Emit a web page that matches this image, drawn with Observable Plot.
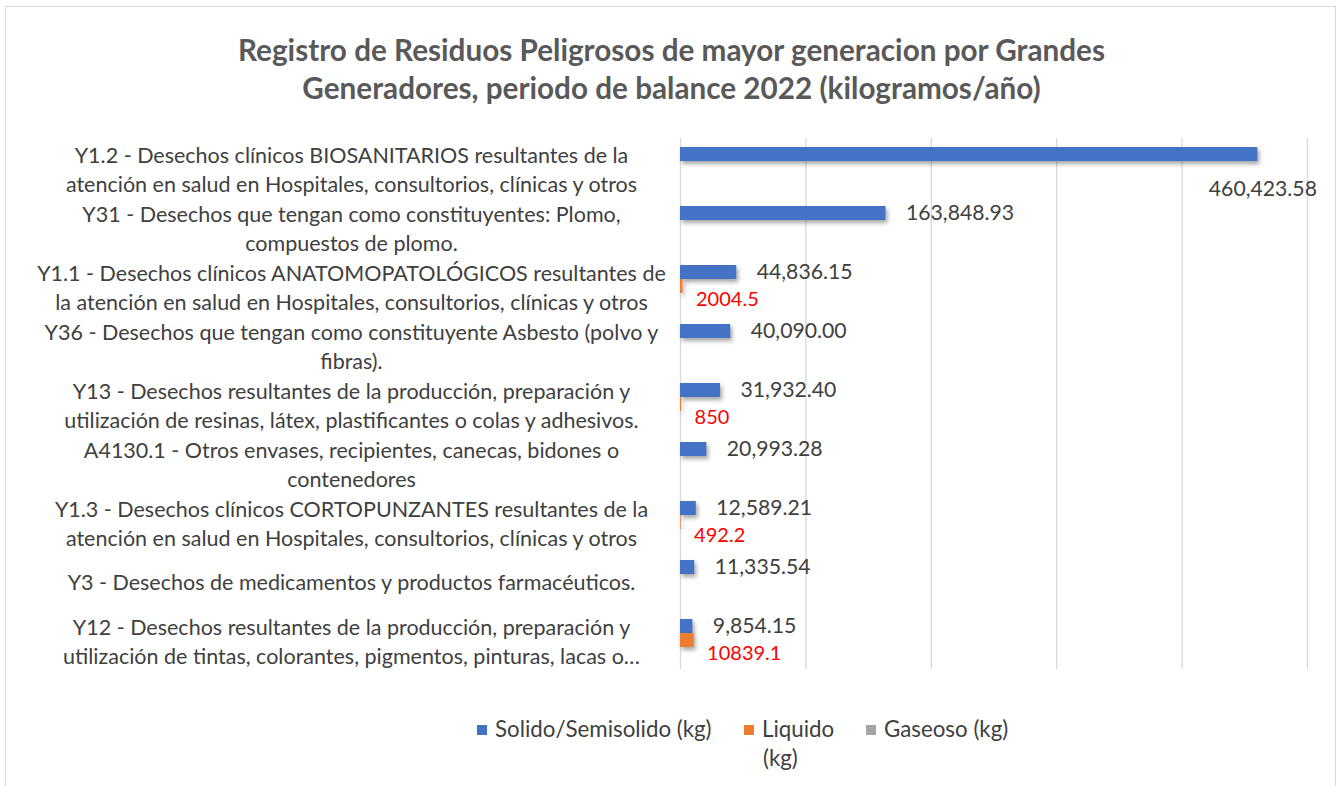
<!DOCTYPE html>
<html>
<head>
<meta charset="utf-8">
<script src="https://cdn.jsdelivr.net/npm/d3@7"></script>
<script src="https://cdn.jsdelivr.net/npm/@observablehq/plot@0.6"></script>
<style>
  body { margin: 0; background: #fff; font-family: Lato, "Open Sans", sans-serif; }
  #frame { position: absolute; left: 5px; top: 6px; width: 1331px; height: 820px; border: 1px solid #d9d9d9; box-sizing: border-box; }
  #title { position: absolute; left: 0; top: 31px; width: 1343px; text-align: center; font-weight: 700; font-size: 29.7px; line-height: 38px; color: #595959; }
  #chart { position: absolute; left: 0; top: 117px; }
  #chart g[aria-label="bar"] rect { filter: drop-shadow(2px 3px 2px rgba(0,0,0,0.35)); }
  .leg { position: absolute; font-size: 22.3px; color: #404040; line-height: 24px; white-space: nowrap; }
  .sw { display: inline-block; width: 10px; height: 10px; margin-right: 8px; vertical-align: 2px; }
</style>
</head>
<body>
<div id="frame"></div>
<div id="title">Registro de Residuos Peligrosos de mayor generacion por Grandes<br>Generadores, periodo de balance 2022 (kilogramos/año)</div>
<div id="chart"></div>
<div id="legend"></div>
<script>
const categories = [
  "Y1.2 - Desechos clínicos BIOSANITARIOS resultantes de la\natención en salud en Hospitales, consultorios, clínicas y otros",
  "Y31 - Desechos que tengan como constituyentes: Plomo,\ncompuestos de plomo.",
  "Y1.1 - Desechos clínicos ANATOMOPATOLÓGICOS resultantes de\nla atención en salud en Hospitales, consultorios, clínicas y otros",
  "Y36 - Desechos que tengan como constituyente Asbesto (polvo y\nfibras).",
  "Y13 - Desechos resultantes de la producción, preparación y\nutilización de resinas, látex, plastificantes o colas y adhesivos.",
  "A4130.1 - Otros envases, recipientes, canecas, bidones o\ncontenedores",
  "Y1.3 - Desechos clínicos CORTOPUNZANTES resultantes de la\natención en salud en Hospitales, consultorios, clínicas y otros",
  "Y3 - Desechos de medicamentos y productos farmacéuticos.",
  "Y12 - Desechos resultantes de la producción, preparación y\nutilización de tintas, colorantes, pigmentos, pinturas, lacas o…"
];
const series = ["Solido/Semisolido (kg)", "Liquido (kg)", "Gaseoso (kg)"];
const solido  = [460423.58, 163848.93, 44836.15, 40090.00, 31932.40, 20993.28, 12589.21, 11335.54, 9854.15];
const liquido = [null, null, 2004.5, null, 850, null, 492.2, null, 10839.1];
const gaseoso = [null, null, null, null, null, null, null, null, null];
const colors  = ["#4472C4", "#ED7D31", "#A5A5A5"];
const xTicks  = [0, 100000, 200000, 300000, 400000, 500000];

const valuesBySeries = [solido, liquido, gaseoso];
const rows = categories.flatMap((c, i) =>
  series.map((s, j) => ({cat: c, series: s, value: valuesBySeries[j][i]}))
).filter(d => d.value != null);

const fmt = d3.format(",.2f");

const chart = Plot.plot({
  width: 1343,
  height: 573,
  marginTop: 20,
  marginBottom: 20,
  marginLeft: 680,
  marginRight: 36,
  style: {fontFamily: "Lato, 'Open Sans', sans-serif", fontSize: "21px", color: "#404040", background: "transparent"},
  x: {domain: [0, 500000], axis: null},
  y: {domain: series, paddingInner: 0, paddingOuter: 0.57, axis: null},
  fy: {domain: categories, padding: 0, axis: null},
  color: {domain: series, range: colors},
  marks: [
    Plot.ruleX(xTicks, {stroke: "#d9d9d9", strokeWidth: 1.3}),
    Plot.barX(rows, {x: "value", y: "series", fy: "cat", fill: "series"}),
    Plot.text(rows, {filter: d => d.series === series[0] && d.value < 400000, x: "value", y: "series", fy: "cat",
      text: d => fmt(d.value), dx: 20, textAnchor: "start", fill: "#404040", fontSize: 21.2}),
    Plot.text(rows, {filter: d => d.series === series[0] && d.value >= 400000, x: "value", y: "series", fy: "cat",
      text: d => fmt(d.value), dx: 5, dy: 35, textAnchor: "middle", fill: "#404040", fontSize: 21.2}),
    Plot.text(rows, {filter: d => d.series === series[1], x: "value", y: "series", fy: "cat",
      text: d => String(d.value), dx: 13, dy: 13, textAnchor: "start", fill: "#ff0000", fontSize: 20}),
    Plot.text(categories, {fy: d => d, text: d => d, frameAnchor: "left", dx: -329, textAnchor: "middle",
      lineHeight: 1.35, fill: "#404040", fontSize: 21.5})
  ]
});
document.getElementById("chart").appendChild(chart);

// legend
const legend = document.getElementById("legend");
const legItems = [
  {label: "Solido/Semisolido (kg)", left: 477, top: 717},
  {label: "Liquido", left: 744, top: 717},
  {label: "Gaseoso (kg)", left: 866, top: 717}
];
legItems.forEach((it, i) => {
  const el = document.createElement("div");
  el.className = "leg";
  el.style.left = it.left + "px";
  el.style.top = it.top + "px";
  el.innerHTML = `<span class="sw" style="background:${colors[i]}"></span>${it.label}`;
  legend.appendChild(el);
});
const kg = document.createElement("div");
kg.className = "leg";
kg.style.left = "763px";
kg.style.top = "746px";
kg.textContent = "(kg)";
legend.appendChild(kg);
</script>
</body>
</html>
